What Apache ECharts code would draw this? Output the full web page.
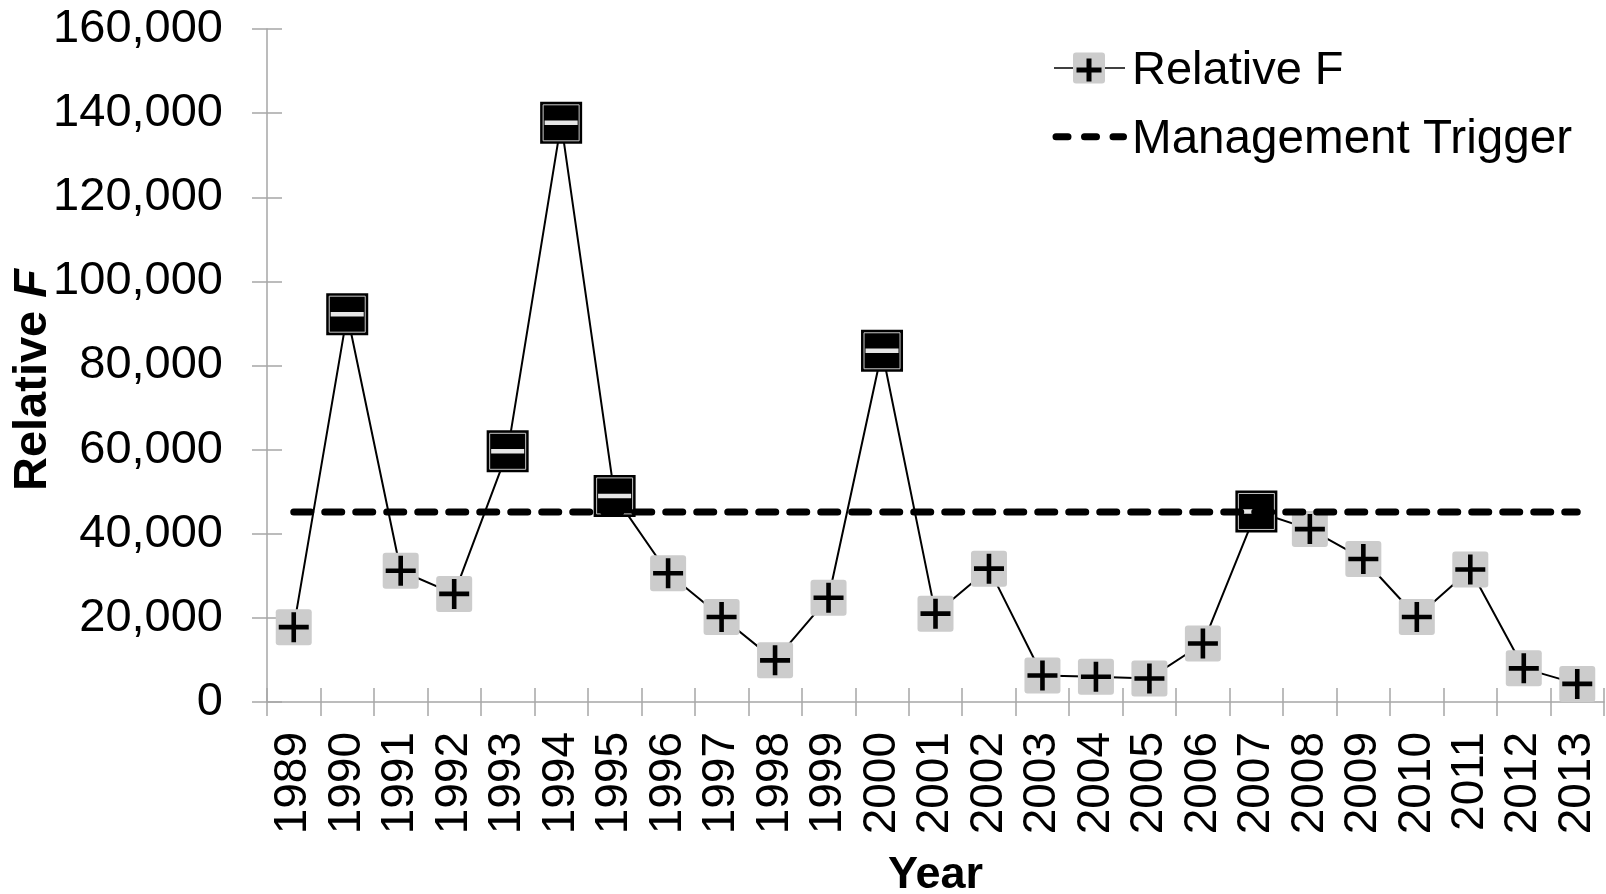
<!DOCTYPE html>
<html>
<head>
<meta charset="utf-8">
<script src="https://cdn.jsdelivr.net/npm/echarts@6/dist/echarts.min.js"></script>
<style>
html,body{margin:0;padding:0;background:#fff;}
#chart{width:1606px;height:894px;}
</style>
</head>
<body>
<div id="chart"></div>
<script>
// ---- data ----
var years = ['1989','1990','1991','1992','1993','1994','1995','1996','1997','1998','1999','2000','2001','2002','2003','2004','2005','2006','2007','2008','2009','2010','2011','2012','2013'];
var relativeF = [17800,92200,31200,25700,59600,137700,49000,30600,20200,9900,24800,83500,21000,31700,6300,6000,5600,13900,45300,41100,34000,20200,31500,8000,4300];
var trigger = 45200;
var yTicks = [0,20000,40000,60000,80000,100000,120000,140000,160000];

// split points into those above / below the management trigger
var belowVals = relativeF.map(function(v){ return v >= trigger ? null : v; });
var aboveVals = relativeF.map(function(v){ return v >= trigger ? v : null; });

var FONT = "'Liberation Sans', Arial, sans-serif";
var AXIS_COLOR = '#a6a6a6';
var grayBox = 'path://M3,0H33Q36,0,36,3V33Q36,36,33,36H3Q0,36,0,33V3Q0,0,3,0Z';
var plusPath = 'path://M12.7,0H17.3V12.7H30V17.3H17.3V30H12.7V17.3H0V12.7H12.7Z';

var chart = echarts.init(document.getElementById('chart'));
chart.setOption({
  animation: false,
  backgroundColor: '#ffffff',
  grid: { left: 267, right: 2, top: 29, bottom: 192, containLabel: false, outerBoundsMode: 'none' },
  xAxis: [{
    type: 'category',
    data: years,
    boundaryGap: true,
    name: 'Year',
    nameLocation: 'middle',
    nameGap: 174,
    nameMoveOverlap: false,
    nameTextStyle: { fontFamily: FONT, fontSize: 45, fontWeight: 'bold', color: '#000', verticalAlign: 'middle' },
    axisLine: { show: true, lineStyle: { color: AXIS_COLOR, width: 1.5 } },
    axisTick: { show: true, inside: false, length: 14, interval: 0, alignWithLabel: false, lineStyle: { color: AXIS_COLOR, width: 1.5 } },
    axisLabel: { show: true, interval: 0, rotate: 90, margin: 30, fontFamily: FONT, fontSize: 46, color: '#000' },
    splitLine: { show: false }
  }, {
    type: 'category',
    data: years,
    boundaryGap: true,
    position: 'bottom',
    axisLine: { show: false },
    axisTick: { show: true, inside: true, length: 14, interval: 0, lineStyle: { color: AXIS_COLOR, width: 1.5 } },
    axisLabel: { show: false },
    splitLine: { show: false }
  }],
  yAxis: [{
    type: 'value',
    min: yTicks[0],
    max: yTicks[yTicks.length - 1],
    interval: yTicks[1] - yTicks[0],
    name: '{a|Relative }{b|F}',
    nameLocation: 'middle',
    nameRotate: 90,
    nameGap: 234,
    nameMoveOverlap: false,
    nameTextStyle: {
      verticalAlign: 'middle',
      padding: [0, 29, 0, 0],
      rich: {
        a: { fontFamily: FONT, fontSize: 47, fontWeight: 'bold', color: '#000' },
        b: { fontFamily: FONT, fontSize: 47, fontWeight: 'bold', fontStyle: 'italic', color: '#000' }
      }
    },
    axisLine: { show: true, lineStyle: { color: AXIS_COLOR, width: 1.5 } },
    axisTick: { show: true, inside: false, length: 15, lineStyle: { color: AXIS_COLOR, width: 1.5 } },
    axisLabel: {
      show: true, margin: 44, fontFamily: FONT, fontSize: 47, color: '#000',
      formatter: function(v){ return v.toLocaleString('en-US'); }
    },
    splitLine: { show: false }
  }, {
    type: 'value',
    position: 'left',
    min: yTicks[0],
    max: yTicks[yTicks.length - 1],
    interval: yTicks[1] - yTicks[0],
    axisLine: { show: false },
    axisTick: { show: true, inside: true, length: 15, lineStyle: { color: AXIS_COLOR, width: 1.5 } },
    axisLabel: { show: false },
    splitLine: { show: false }
  }],
  series: [{
    name: 'Relative F',
    type: 'line',
    data: relativeF,
    symbol: 'none',
    z: 2,
    lineStyle: { color: '#000', width: 2 }
  }, {
    name: 'Relative F box',
    type: 'scatter',
    data: belowVals,
    symbol: grayBox,
    symbolSize: 36,
    z: 3,
    itemStyle: { color: '#cccccc', opacity: 1 }
  }, {
    name: 'Relative F plus',
    type: 'scatter',
    data: belowVals,
    symbol: plusPath,
    symbolSize: 30,
    z: 4,
    itemStyle: { color: '#000', opacity: 1 }
  }, {
    name: 'Above trigger box',
    type: 'scatter',
    data: aboveVals,
    symbol: 'rect',
    symbolSize: 42,
    z: 5,
    itemStyle: { color: '#000', opacity: 1 }
  }, {
    name: 'Above trigger inner',
    type: 'scatter',
    data: aboveVals,
    symbol: 'rect',
    symbolSize: 36,
    z: 6,
    itemStyle: { color: 'rgba(0,0,0,0)', borderColor: '#c8c8c8', borderWidth: 1, opacity: 1 }
  }, {
    name: 'Above trigger dash',
    type: 'scatter',
    data: aboveVals,
    symbol: 'rect',
    symbolSize: [33, 4.5],
    z: 7,
    itemStyle: { color: '#e6e6e6', opacity: 1 }
  }, {
    name: 'Management Trigger',
    type: 'line',
    data: [[years[0], trigger], [years[years.length - 1], trigger]],
    symbol: 'none',
    z: 8,
    lineStyle: { color: '#000', width: 7, type: [17, 14], cap: 'round' }
  }],
  graphic: [
    { type: 'line', shape: { x1: 1054, y1: 68, x2: 1125, y2: 68 }, style: { stroke: '#000', lineWidth: 1.5 }, z: 10 },
    { type: 'rect', shape: { x: 1073, y: 52.5, width: 32, height: 31, r: 3 }, style: { fill: '#cccccc' }, z: 11 },
    { type: 'rect', shape: { x: 1076.5, y: 67.5, width: 25, height: 5 }, style: { fill: '#000' }, z: 12 },
    { type: 'rect', shape: { x: 1086.5, y: 58.5, width: 5, height: 23 }, style: { fill: '#000' }, z: 12 },
    { type: 'text', left: 1132, top: 48, style: { text: 'Relative F', fontFamily: FONT, fontSize: 47, fill: '#000' }, z: 12 },
    { type: 'line', shape: { x1: 1056, y1: 136.7, x2: 1123.5, y2: 136.7 }, style: { stroke: '#000', lineWidth: 7, lineDash: [12, 16.5], lineCap: 'round' }, z: 10 },
    { type: 'text', left: 1132, top: 116, style: { text: 'Management Trigger', fontFamily: FONT, fontSize: 47.6, fill: '#000' }, z: 12 }
  ]
});
</script>
</body>
</html>
